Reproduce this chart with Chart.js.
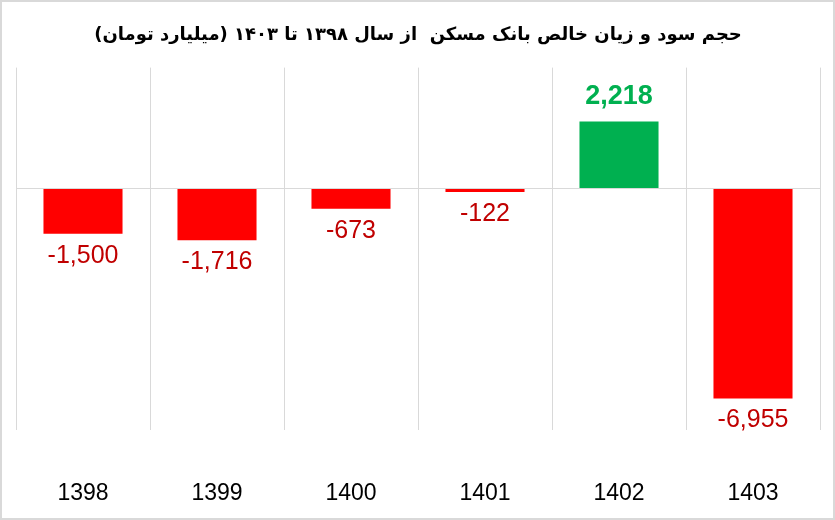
<!DOCTYPE html>
<html>
<head>
	<meta charset="utf-8">
	<title>Bank Maskan</title>
	<script src="https://cdn.jsdelivr.net/npm/chart.js"></script>
	<style>
		body { margin: 0; background: #fff; }
	</style>
</head>
<body>
	<canvas id="myChart" width="835" height="520"></canvas>
	<script>
		// data
		var years = ['1398', '1399', '1400', '1401', '1402', '1403'];
		var profitLoss = [-1500, -1716, -673, -122, 2218, -6955];
		var chartTitle = 'حجم سود و زیان خالص بانک مسکن  از سال ۱۳۹۸ تا ۱۴۰۳ (میلیارد تومان)';

		var barColors = profitLoss.map(v => v >= 0 ? '#00b050' : '#ff0000');

		// labels on bars
		var valueLabels = {
			id: 'valueLabels',
			afterDatasetsDraw(chart) {
				var ctx = chart.ctx;
				var meta = chart.getDatasetMeta(0);
				ctx.save();
				ctx.textAlign = 'center';
				ctx.textBaseline = 'middle';
				meta.data.forEach((bar, i) => {
					var v = profitLoss[i];
					var txt = v.toLocaleString('en-US');
					if (v >= 0) {
						ctx.font = 'bold 27px "Liberation Sans"';
						ctx.fillStyle = '#00b050';
						ctx.fillText(txt, bar.x, bar.y - 25);
					} else {
						ctx.font = '25px "Liberation Sans"';
						ctx.fillStyle = '#c00000';
						ctx.fillText(txt, bar.x, bar.y + 22);
					}
				});
				ctx.restore();
			}
		};

		var frame = {
			id: 'frame',
			beforeDraw(chart) {
				var ctx = chart.ctx;
				ctx.save();
				ctx.fillStyle = '#fff';
				ctx.fillRect(0, 0, chart.width, chart.height);
				ctx.strokeStyle = '#d9d9d9';
				ctx.lineWidth = 2;
				ctx.strokeRect(1, 1, chart.width - 2, chart.height - 2);
				ctx.restore();
			}
		};

		var ctx = document.getElementById('myChart').getContext('2d');
		var chart = new Chart(ctx, {
			type: 'bar',
			data: {
				labels: years,
				datasets: [{
					data: profitLoss,
					backgroundColor: barColors,
					borderWidth: 0,
					barPercentage: 0.59,
					categoryPercentage: 1
				}]
			},
			options: {
				responsive: false,
				animation: false,
				layout: { padding: { left: 16, right: 15, bottom: 0 } },
				plugins: {
					legend: { display: false },
					tooltip: { enabled: false },
					title: {
						display: true,
						text: chartTitle,
						color: '#000',
						font: { family: 'DejaVu Sans', size: 18, weight: 'bold' },
						padding: { top: 25, bottom: 21 }
					}
				},
				scales: {
					x: {
						grid: { color: '#d9d9d9', drawTicks: false },
						border: { display: false },
						ticks: {
							color: '#000',
							font: { family: 'Liberation Sans', size: 23 },
							padding: 50
						},
						afterFit(scale) { scale.height = 90; }
					},
					y: {
						min: -8000,
						max: 4000,
						ticks: { display: false, stepSize: 1000 },
						border: { display: false },
						grid: {
							drawTicks: false,
							color: c => c.tick.value === 0 ? '#d9d9d9' : 'rgba(0,0,0,0)'
						}
					}
				}
			},
			plugins: [frame, valueLabels]
		});
	</script>
</body>
</html>
